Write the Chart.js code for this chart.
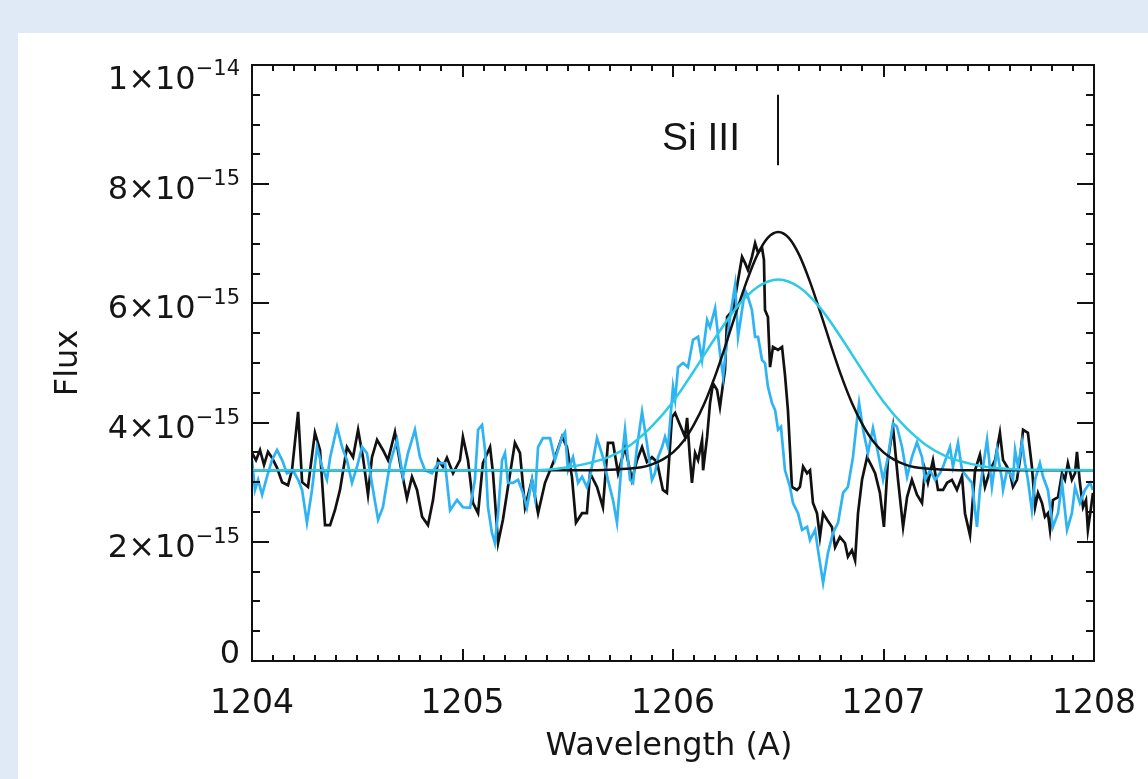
<!DOCTYPE html>
<html>
<head>
<meta charset="utf-8">
<title>Si III 1206</title>
<script src="https://cdn.jsdelivr.net/npm/chart.js@4.4.1/dist/chart.umd.min.js"></script>
<style>
    html, body { margin: 0; padding: 0; background: #e0eaf6; overflow: hidden; }
    #panel { position: absolute; left: 18px; top: 33px; width: 1130px; height: 746px; background: #fff; }
    canvas { display: block; }
</style>
</head>
<body>
<div id="panel"><canvas id="fluxChart" width="1130" height="746"></canvas></div>
<script>
// wavelengths in Angstrom, fluxes in units of 1e-15
const waveBlack = [
    1204.000,1204.019,1204.038,1204.057,1204.076,1204.095,1204.119,1204.143,1204.171,1204.190,
    1204.219,1204.238,1204.266,1204.299,1204.323,1204.347,1204.371,1204.394,1204.418,1204.451,
    1204.480,1204.504,1204.527,1204.551,1204.570,1204.594,1204.622,1204.646,1204.679,1204.703,
    1204.736,1204.760,1204.784,1204.808,1204.836,1204.860,1204.884,1204.907,1204.926,1204.955,
    1204.988,1205.002,1205.026,1205.050,1205.074,1205.097,1205.131,1205.145,1205.169,1205.192,
    1205.216,1205.249,1205.273,1205.297,1205.330,1205.359,1205.392,1205.430,1205.473,1205.496,
    1205.520,1205.539,1205.568,1205.591,1205.606,1205.639,1205.667,1205.691,1205.715,1205.739,
    1205.772,1205.805,1205.829,1205.853,1205.876,1205.900,1205.924,1205.952,1205.971,1205.995,
    1206.010,1206.024,1206.043,1206.057,1206.067,1206.081,1206.090,1206.105,1206.119,1206.138,
    1206.143,1206.162,1206.176,1206.190,1206.209,1206.223,1206.238,1206.247,1206.257,1206.285,
    1206.309,1206.328,1206.342,1206.356,1206.375,1206.390,1206.404,1206.423,1206.432,1206.437,
    1206.451,1206.461,1206.475,1206.499,1206.518,1206.532,1206.546,1206.556,1206.565,1206.589,
    1206.603,1206.618,1206.637,1206.651,1206.665,1206.684,1206.698,1206.713,1206.732,1206.755,
    1206.770,1206.793,1206.817,1206.831,1206.850,1206.865,1206.879,1206.898,1206.922,1206.945,
    1206.960,1206.983,1207.002,1207.021,1207.045,1207.069,1207.093,1207.112,1207.135,1207.159,
    1207.183,1207.197,1207.211,1207.235,1207.259,1207.283,1207.302,1207.325,1207.349,1207.373,
    1207.387,1207.411,1207.435,1207.458,1207.482,1207.506,1207.530,1207.553,1207.568,1207.587,
    1207.601,1207.615,1207.634,1207.648,1207.663,1207.686,1207.705,1207.720,1207.734,1207.753,
    1207.767,1207.781,1207.791,1207.805,1207.829,1207.848,1207.862,1207.876,1207.895,1207.910,
    1207.919,1207.933,1207.948,1207.962,1207.971,1207.986,1207.995
];
const fluxBlack = [
    3.49,3.37,3.54,3.29,3.51,3.41,3.24,3.00,2.95,3.20,
    4.18,3.00,2.92,3.83,3.54,2.28,2.28,2.53,2.87,3.59,
    3.42,3.88,3.42,2.79,3.42,3.71,3.54,3.37,3.84,3.32,
    2.73,3.09,2.87,2.42,2.28,2.70,3.37,3.26,3.41,3.15,
    3.37,3.76,3.37,2.65,2.48,3.32,3.59,3.15,1.98,2.37,
    2.92,3.66,3.49,2.58,3.04,2.48,2.99,3.32,3.76,3.59,
    3.09,2.32,2.48,2.48,3.15,2.92,2.58,3.66,3.66,3.15,
    3.59,3.04,3.37,3.59,3.34,3.42,3.34,2.87,2.82,4.09,
    4.16,4.04,3.88,3.76,4.08,3.37,2.99,3.49,3.37,3.71,
    3.20,3.76,4.33,4.66,4.55,4.26,4.66,4.88,5.77,5.89,
    6.39,6.78,6.68,6.56,6.78,7.01,6.85,6.93,6.73,5.89,
    5.77,4.93,5.27,5.22,5.27,4.80,4.21,3.54,2.92,2.87,
    2.92,3.26,3.15,3.20,2.65,2.48,2.08,2.48,2.37,2.25,
    1.91,2.08,1.98,1.75,1.86,1.69,2.48,3.04,3.42,3.26,
    3.15,2.82,2.25,3.37,3.93,3.04,2.25,2.75,3.04,2.79,
    2.65,3.20,2.99,3.37,2.87,2.87,2.99,3.04,2.87,3.10,
    2.48,2.11,3.20,3.46,2.92,3.20,3.37,3.83,3.37,3.26,
    3.15,2.92,3.04,3.37,3.88,3.83,3.26,2.58,2.82,2.65,
    2.42,2.48,2.20,2.70,2.75,3.15,3.04,3.32,3.04,3.15,
    3.51,2.99,2.58,2.70,2.20,2.58,2.82
];

const waveBlue = [
    1204.000,1204.014,1204.029,1204.048,1204.071,1204.095,1204.119,1204.143,1204.166,1204.195,
    1204.219,1204.238,1204.261,1204.285,1204.309,1204.333,1204.356,1204.371,1204.404,1204.428,
    1204.451,1204.475,1204.499,1204.523,1204.546,1204.575,1204.599,1204.622,1204.656,1204.689,
    1204.717,1204.741,1204.774,1204.798,1204.822,1204.855,1204.884,1204.917,1204.941,1204.974,
    1205.002,1205.036,1205.059,1205.074,1205.093,1205.107,1205.121,1205.140,1205.154,1205.169,
    1205.188,1205.202,1205.216,1205.240,1205.264,1205.287,1205.306,1205.330,1205.344,1205.359,
    1205.382,1205.416,1205.439,1205.473,1205.487,1205.501,1205.525,1205.549,1205.568,1205.591,
    1205.606,1205.639,1205.667,1205.691,1205.715,1205.734,1205.758,1205.772,1205.796,1205.810,
    1205.829,1205.853,1205.876,1205.900,1205.914,1205.929,1205.948,1205.962,1205.976,1205.995,
    1206.000,1206.010,1206.024,1206.048,1206.071,1206.095,1206.119,1206.138,1206.162,1206.176,
    1206.200,1206.223,1206.238,1206.257,1206.271,1206.295,1206.309,1206.328,1206.342,1206.356,
    1206.375,1206.390,1206.404,1206.423,1206.437,1206.451,1206.470,1206.485,1206.499,1206.513,
    1206.532,1206.556,1206.570,1206.594,1206.613,1206.637,1206.651,1206.675,1206.689,1206.713,
    1206.736,1206.760,1206.784,1206.808,1206.831,1206.855,1206.874,1206.884,1206.903,1206.926,
    1206.950,1206.974,1206.998,1207.021,1207.045,1207.064,1207.088,1207.112,1207.135,1207.159,
    1207.183,1207.197,1207.221,1207.245,1207.268,1207.283,1207.316,1207.330,1207.354,1207.373,
    1207.397,1207.420,1207.444,1207.458,1207.473,1207.492,1207.515,1207.539,1207.563,1207.568,
    1207.587,1207.601,1207.615,1207.625,1207.639,1207.658,1207.672,1207.686,1207.705,1207.720,
    1207.743,1207.758,1207.781,1207.805,1207.829,1207.848,1207.872,1207.895,1207.910,1207.933,
    1207.957,1207.981,1207.995
];
const fluxBlue = [
    3.37,2.87,3.04,2.79,3.09,3.37,3.54,3.37,3.15,3.20,
    3.04,2.87,2.32,2.87,3.59,3.26,3.04,3.41,3.93,3.59,
    3.37,2.99,3.26,3.59,3.49,2.87,2.37,2.58,3.32,3.71,
    3.09,3.49,3.88,3.42,3.20,3.15,3.32,3.32,2.53,2.70,
    2.58,2.57,3.04,3.88,3.96,3.54,2.58,2.15,1.98,2.48,
    3.37,3.49,2.99,2.99,3.04,2.82,2.57,3.04,2.75,3.59,
    3.74,3.74,3.37,3.76,3.84,3.20,3.42,2.99,3.09,2.92,
    3.09,3.74,3.42,3.04,2.70,2.32,3.42,3.88,3.04,2.99,
    3.59,4.18,3.66,3.04,3.15,3.42,3.59,3.76,3.59,4.38,
    4.60,4.38,4.93,5.00,4.93,5.39,5.44,5.05,5.72,5.60,
    5.92,5.17,4.77,5.39,5.77,6.31,5.44,5.89,6.22,6.11,
    5.89,5.44,5.44,5.05,5.00,4.60,4.33,4.21,3.88,3.93,
    3.20,2.92,2.65,2.48,2.20,2.25,2.03,2.20,1.86,1.31,
    1.81,2.15,2.32,2.82,2.92,3.42,4.04,4.33,3.88,3.49,
    3.91,3.49,3.04,3.42,3.99,3.93,3.59,3.09,3.42,3.67,
    3.42,3.04,3.20,3.04,3.15,3.26,3.59,3.26,3.66,3.20,
    3.09,2.99,2.25,2.87,3.26,3.71,2.92,3.54,3.04,2.87,
    3.20,3.15,3.04,3.54,3.26,3.67,3.32,3.04,2.53,3.04,
    3.32,3.09,2.87,2.25,2.48,2.99,2.20,2.48,2.92,2.65,
    2.87,2.99,2.87
];

// fitted profiles
const waveFitBlack = [1204.0, 1205.6, 1205.7, 1205.8, 1205.85, 1205.9, 1205.95, 1206.0, 1206.05, 1206.1,
    1206.15, 1206.2, 1206.25, 1206.3, 1206.35, 1206.4, 1206.45, 1206.5, 1206.55, 1206.6, 1206.65, 1206.7,
    1206.75, 1206.8, 1206.85, 1206.9, 1206.95, 1207.0, 1207.05, 1207.1, 1207.15, 1207.2, 1207.3, 1207.4, 1208.0];
const fluxFitBlack = [3.20, 3.20, 3.21, 3.23, 3.25, 3.30, 3.38, 3.50, 3.69, 3.97,
    4.33, 4.78, 5.30, 5.85, 6.37, 6.81, 7.10, 7.20, 7.10, 6.81, 6.37, 5.85,
    5.30, 4.78, 4.33, 3.97, 3.69, 3.50, 3.38, 3.30, 3.25, 3.23, 3.21, 3.20, 3.20];

const waveFitBlue = [1204.0, 1205.3, 1205.4, 1205.5, 1205.6, 1205.7, 1205.8, 1205.9, 1206.0, 1206.1,
    1206.2, 1206.3, 1206.4, 1206.5, 1206.6, 1206.7, 1206.8, 1206.9, 1207.0, 1207.1, 1207.2, 1207.3,
    1207.4, 1207.5, 1207.6, 1207.7, 1208.0];
const fluxFitBlue = [3.20, 3.20, 3.21, 3.25, 3.32, 3.43, 3.63, 3.94, 4.35, 4.87,
    5.42, 5.92, 6.27, 6.40, 6.27, 5.92, 5.42, 4.87, 4.35, 3.94, 3.63, 3.43,
    3.32, 3.25, 3.22, 3.21, 3.20];

// axes
const xTickValues = [1204, 1205, 1206, 1207, 1208];
const xTickLabels = ["1204", "1205", "1206", "1207", "1208"];
const yTickValues = [0, 2, 4, 6, 8, 10];
const yTickMantissa = ["0", "2", "4", "6", "8", "1"];
const yTickExponent = ["", "\u221215", "\u221215", "\u221215", "\u221215", "\u221214"];

// line identification
const lineName = "Si III";
const lineWave = 1206.5;
const lineMarkTop = 9.5;
const lineMarkBottom = 8.32;

const TEXT = "#151515";
const FONT = "'DejaVu Sans', sans-serif";

function toPoints(xs, ys) {
    return xs.map((x, i) => ({ x: x, y: ys[i] }));
}

const idlAxes = {
    id: "idlAxes",
    afterDraw(chart) {
        const ctx = chart.ctx;
        const a = chart.chartArea;
        const xs = chart.scales.x;
        const ys = chart.scales.y;

        ctx.save();
        ctx.strokeStyle = "#111";
        ctx.lineWidth = 2;
        ctx.strokeRect(a.left, a.top, a.right - a.left, a.bottom - a.top);

        // minor / major ticks pointing inward, on all four sides
        ctx.beginPath();
        for (let i = 0; i <= 40; i++) {
            const px = Math.round(xs.getPixelForValue(1204 + i * 0.1));
            const len = i % 10 === 0 ? 12 : 6;
            ctx.moveTo(px, a.bottom); ctx.lineTo(px, a.bottom - len);
            ctx.moveTo(px, a.top); ctx.lineTo(px, a.top + len);
        }
        for (let i = 0; i <= 20; i++) {
            const py = Math.round(ys.getPixelForValue(i * 0.5));
            const len = i % 4 === 0 ? 17 : 8;
            ctx.moveTo(a.left, py); ctx.lineTo(a.left + len, py);
            ctx.moveTo(a.right, py); ctx.lineTo(a.right - len, py);
        }
        ctx.stroke();

        ctx.fillStyle = TEXT;

        // x tick labels
        ctx.font = "33px " + FONT;
        ctx.textAlign = "center";
        ctx.textBaseline = "alphabetic";
        xTickValues.forEach((v, i) => {
            ctx.fillText(xTickLabels[i], xs.getPixelForValue(v), a.bottom + 52);
        });

        // y tick labels with exponent
        yTickValues.forEach((v, i) => {
            const py = ys.getPixelForValue(v);
            const base = Math.min(Math.max(py + 15, a.top + 24), a.bottom + 2);
            let right = a.left - 12;
            ctx.textAlign = "right";
            if (yTickExponent[i]) {
                ctx.font = "21px " + FONT;
                ctx.fillText(yTickExponent[i], right, base - 14);
                right -= ctx.measureText(yTickExponent[i]).width;
                ctx.font = "32px " + FONT;
                ctx.fillText(yTickMantissa[i] + "\u00d710", right, base);
            } else {
                ctx.font = "32px " + FONT;
                ctx.fillText(yTickMantissa[i], right, base);
            }
        });

        // axis titles
        ctx.font = "32px " + FONT;
        ctx.textAlign = "center";
        ctx.fillText("Wavelength (A)", (a.left + a.right) / 2 - 4, a.bottom + 94);
        ctx.save();
        ctx.translate(a.left - 175, (a.top + a.bottom) / 2);
        ctx.rotate(-Math.PI / 2);
        ctx.fillText("Flux", 0, 0);
        ctx.restore();

        // Si III marker
        const lx = Math.round(xs.getPixelForValue(lineWave));
        ctx.beginPath();
        ctx.lineWidth = 2;
        ctx.moveTo(lx, ys.getPixelForValue(lineMarkTop));
        ctx.lineTo(lx, ys.getPixelForValue(lineMarkBottom));
        ctx.stroke();
        ctx.font = "39px 'Liberation Sans', Arial, sans-serif";
        ctx.textAlign = "right";
        ctx.fillText(lineName, lx - 38, ys.getPixelForValue(8.57));

        ctx.restore();
    }
};

const ctx = document.getElementById("fluxChart").getContext("2d");
const fluxChart = new Chart(ctx, {
    type: "line",
    data: {
        datasets: [
            {
                label: "fit (blue)",
                data: toPoints(waveFitBlue, fluxFitBlue),
                borderColor: "#2ccae6",
                borderWidth: 2.5,
                cubicInterpolationMode: "monotone",
                pointRadius: 0
            },
            {
                label: "fit (black)",
                data: toPoints(waveFitBlack, fluxFitBlack),
                borderColor: "#111",
                borderWidth: 2.5,
                cubicInterpolationMode: "monotone",
                pointRadius: 0
            },
            {
                label: "spectrum (blue)",
                data: toPoints(waveBlue, fluxBlue),
                borderColor: "#2fb3f2",
                borderWidth: 2.7,
                tension: 0,
                pointRadius: 0
            },
            {
                label: "spectrum (black)",
                data: toPoints(waveBlack, fluxBlack),
                borderColor: "#111",
                borderWidth: 2.7,
                tension: 0,
                pointRadius: 0
            }
        ]
    },
    options: {
        responsive: false,
        animation: false,
        devicePixelRatio: 1,
        layout: { padding: { left: 234, top: 32, right: 54, bottom: 118 } },
        scales: {
            x: { type: "linear", min: 1204, max: 1208, display: false },
            y: { min: 0, max: 10, display: false }
        },
        plugins: {
            legend: { display: false },
            tooltip: { enabled: false }
        }
    },
    plugins: [idlAxes]
});
</script>
</body>
</html>
